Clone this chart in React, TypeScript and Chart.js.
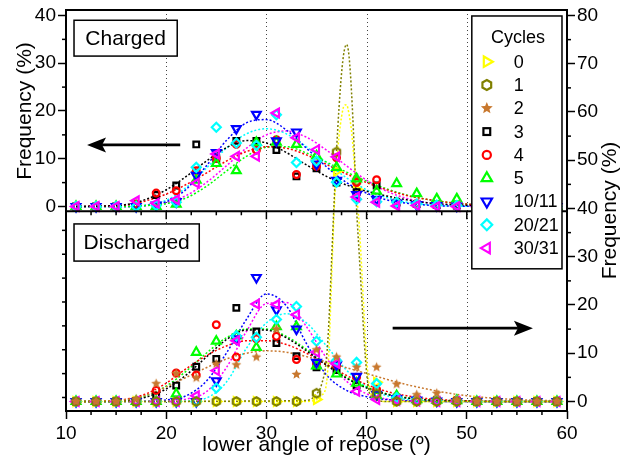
import React, { useEffect, useRef } from 'react';
import { Chart, registerables } from 'chart.js';

Chart.register(...registerables);

// ---------- data ----------
const CYCLES = ['0', '1', '2', '3', '4', '5', '10/11', '20/21', '30/31'];
const X_POINTS = [11, 13, 15, 17, 19, 21, 23, 25, 27, 29, 31, 33, 35, 37, 39, 41, 43, 45, 47, 49, 51, 53, 55, 57, 59];
const FIT_X = [11, 14, 16, 18, 20, 22, 24, 26, 28, 30, 32, 34, 36, 38, 40, 42, 44, 46, 48, 50, 52, 54, 56, 58, 59];
const PEAK_X = [11, 34, 35, 35.5, 36, 36.25, 36.5, 36.75, 37, 37.25, 37.5, 37.75, 38, 38.25, 38.5, 38.75, 39, 39.25, 39.5, 39.75, 40, 40.25, 40.5, 41, 42, 59];

// Charged (left axis) measured points
const CH3 = [0, 0, 0, 0.3, 2.4, 4.4, 13.0, 10.0, 13.75, 13.75, 11.8, 6.3, 8.0, 5.0, 3.0, 4.4, 0.8, 0.5, 0.3, 0.2, 0, 0, 0, 0, 0];
const CH4 = [0, 0, 0, 0.5, 2.8, 3.3, 7.5, 10.1, 13.0, 11.8, 14.0, 6.7, 8.4, 10.2, 5.0, 5.6, 0.9, 0.6, 0.3, 0.2, 0, 0, 0, 0, 0];
const CH5 = [0, 0, 0, 0, 0, 0.5, 5.5, 9.0, 7.5, 13.4, 13.5, 13.0, 10.6, 8.2, 5.8, 3.2, 4.8, 2.7, 1.6, 1.6, 0.5, 0.2, 0, 0, 0];
const CH10 = [0, 0, 0, 0, 0.3, 1.0, 6.5, 11.3, 16.3, 19.3, 13.75, 15.6, 8.9, 5.5, 2.5, 1.5, 0.7, 0.4, 0.2, 0.1, 0, 0, 0, 0, 0];
const CH20 = [0, 0, 0, 0, 0.2, 0.9, 8.2, 16.6, 13.3, 12.8, 19.2, 9.2, 9.5, 5.1, 1.5, 1.0, 0.9, 0.5, 0.3, 0.2, 0, 0, 0, 0, 0];
const CH30 = [0, 0, 0, 1.2, 0.7, 1.4, 4.9, 11.0, 10.5, 10.5, 19.6, 14.4, 11.9, 10.4, 2.0, 0.9, 0.1, 0.2, 0, 0, 0, 0, 0, 0, 0];

// Charged fitted curves (left axis)
const F_CH3 = [0, 0.1, 0.4, 1.5, 3.5, 6.3, 9.5, 12.3, 13.8, 13.3, 11.3, 8.7, 6.3, 4.5, 3.2, 2.2, 1.4, 0.8, 0.45, 0.25, 0.12, 0.05, 0, 0, 0];
const F_CH4 = [0, 0.1, 0.3, 1.2, 2.6, 4.6, 7.0, 9.5, 11.5, 12.5, 12.2, 10.8, 8.8, 6.8, 5.0, 3.5, 2.3, 1.5, 0.9, 0.5, 0.3, 0.15, 0.05, 0, 0];
const F_CH5 = [0, 0, 0, 0.2, 0.6, 1.8, 4.2, 7.4, 10.5, 12.4, 12.5, 11.2, 9.3, 7.2, 5.3, 3.7, 2.4, 1.5, 0.9, 0.5, 0.25, 0.1, 0.05, 0, 0];
const F_CH10 = [0, 0, 0, 0.2, 1.0, 3.6, 8.5, 13.8, 17.5, 18.2, 16.0, 12.2, 8.3, 5.0, 2.8, 1.4, 0.7, 0.3, 0.1, 0.05, 0, 0, 0, 0, 0];
const F_CH20 = [0, 0, 0, 0.3, 1.3, 4.0, 8.0, 12.2, 15.2, 16.3, 15.2, 12.5, 9.2, 6.0, 3.5, 1.9, 0.9, 0.4, 0.15, 0.05, 0, 0, 0, 0, 0];
const F_CH30 = [0, 0, 0, 0.2, 0.8, 2.3, 5.0, 8.5, 12.2, 15.0, 15.8, 14.5, 11.8, 8.5, 5.5, 3.2, 1.7, 0.8, 0.35, 0.1, 0, 0, 0, 0, 0];

// Discharged (right axis) measured points
const DIS0 = [0, 0, 0, 0, 0, 0, 0, 0, 0, 0, 0, 0, 0.4, 47.7, 44.0, 4.0, 0, 0, 0, 0, 0, 0, 0, 0, 0];
const DIS1 = [0, 0, 0, 0, 0, 0, 0, 0, 0, 0, 0, 0, 1.7, 51.7, 45.7, 1.6, 0, 0, 0, 0, 0, 0, 0, 0, 0];
const DIS2 = [0, 0, 0, 0.5, 3.7, 5.8, 4.9, 7.8, 7.6, 9.2, 15.0, 5.6, 10.7, 9.2, 7.1, 7.1, 3.6, 1.4, 1.7, 0.3, 0, 0, 0, 0, 0];
const DIS3 = [0, 0, 0, 0, 1.2, 3.3, 7.2, 8.8, 19.4, 14.5, 12.1, 9.4, 7.1, 6.5, 3.3, 1.5, 0.8, 0.4, 0.2, 0.1, 0, 0, 0, 0, 0];
const DIS4 = [0, 0, 0, 0, 2.3, 5.9, 5.5, 15.9, 9.2, 13.0, 13.5, 8.7, 8.0, 7.5, 5.0, 2.5, 0.8, 0.5, 0.3, 0.3, 0, 0, 0, 0, 0];
const DIS5 = [0, 0, 0, 0, 0, 1.6, 10.2, 12.5, 13.6, 11.2, 15.5, 15.5, 7.4, 5.7, 3.8, 1.2, 1.2, 0.4, 0.3, 0.2, 0, 0, 0, 0, 0];
const DIS10 = [0, 0, 0, 0, 0, 0, 0, 4.3, 13.0, 25.7, 19.0, 15.0, 8.1, 7.6, 5.2, 1.5, 0.6, 0.3, 0.1, 0, 0, 0, 0, 0, 0];
const DIS20 = [0, 0, 0, 0, 0, 0, 0, 2.8, 13.6, 13.3, 17.0, 19.7, 12.5, 8.5, 8.1, 3.7, 0.8, 0.4, 0.2, 0.1, 0, 0, 0, 0, 0];
const DIS30 = [0, 0, 0, 0, 0, 0, 1.2, 6.4, 12.6, 20.2, 20.1, 18.0, 10.2, 7.9, 2.1, 0.4, 0.2, 0.1, 0, 0, 0, 0, 0, 0, 0];

// Discharged fitted curves (right axis)
const F_DIS0 = [0, 0, 0.4, 1.2, 3.8, 11, 25, 39, 49, 55, 59, 61.3, 61.5, 59.5, 56, 50, 43, 37, 28, 18, 9, 3.5, 1.2, 0.2, 0, 0];
const F_DIS1 = [0, 0.2, 1.5, 3.5, 9, 17, 29, 41, 52, 61, 68, 72.5, 74, 71.5, 64, 53, 40, 31, 22, 13, 6, 2, 0.8, 0.3, 0, 0];
const F_DIS2 = [0, 0.1, 0.4, 1.3, 3.0, 5.0, 7.0, 8.8, 10.0, 10.5, 10.2, 9.3, 8.2, 7.0, 5.8, 4.6, 3.5, 2.6, 1.8, 1.2, 0.8, 0.5, 0.3, 0.2, 0.15];
const F_DIS3 = [0, 0, 0.2, 0.9, 2.6, 5.5, 9.2, 12.8, 14.8, 14.8, 13.2, 10.5, 7.5, 4.8, 2.8, 1.5, 0.7, 0.3, 0.1, 0.05, 0, 0, 0, 0, 0];
const F_DIS4 = [0, 0.1, 0.5, 1.6, 3.8, 6.8, 9.5, 11.5, 12.6, 12.6, 11.8, 10.0, 7.7, 5.4, 3.5, 2.1, 1.2, 0.6, 0.3, 0.15, 0.05, 0, 0, 0, 0];
const F_DIS5 = [0, 0, 0.3, 1.2, 3.2, 6.3, 10.0, 13.2, 15.0, 15.0, 13.5, 10.8, 7.8, 5.0, 3.0, 1.6, 0.8, 0.4, 0.2, 0.1, 0, 0, 0, 0, 0];
const F_DIS10 = [0, 0, 0, 0.05, 0.3, 1.2, 4.2, 10.0, 17.0, 22.3, 19.8, 12.0, 5.5, 2.3, 1.0, 0.4, 0.15, 0.05, 0, 0, 0, 0, 0, 0, 0];
const F_DIS20 = [0, 0, 0, 0, 0, 0.1, 0.7, 4.0, 11.0, 16.3, 18.2, 16.3, 11.5, 6.5, 3.0, 1.2, 0.4, 0.1, 0, 0, 0, 0, 0, 0, 0];
const F_DIS30 = [0, 0, 0, 0, 0.1, 0.5, 2.0, 7.0, 14.5, 20.3, 20.5, 15.5, 9.0, 4.2, 1.6, 0.5, 0.15, 0.05, 0, 0, 0, 0, 0, 0, 0];

// ticks
const X_TICKS = [10, 20, 30, 40, 50, 60];
const X_MINOR = [12.5, 15, 17.5, 22.5, 25, 27.5, 32.5, 35, 37.5, 42.5, 45, 47.5, 52.5, 55, 57.5];
const X_GRID = [20, 30, 40, 50];
const LEFT_TICKS = [0, 10, 20, 30, 40];
const LEFT_MINOR = [5, 15, 25, 35, -5, -10, -15, -20, -25, -30, -35, -40];
const RIGHT_TICKS = [0, 10, 20, 30, 40, 50, 60, 70, 80];
const RIGHT_MINOR = [5, 15, 25, 35, 45, 55, 65, 75];

const FONT = '"Liberation Sans", Arial, Helvetica, sans-serif';

// ---------- styles ----------
type Sty = { color: string; point: string; rot: number; r: number };
const STYLE: Record<string, Sty> = {
  '0': { color: '#FFFF00', point: 'triangle', rot: 90, r: 5 },
  '1': { color: '#808000', point: 'hex', rot: 0, r: 4.2 },
  '2': { color: '#C8782E', point: 'star', rot: 0, r: 5.2 },
  '3': { color: '#000000', point: 'rect', rot: 0, r: 4 },
  '4': { color: '#FF0000', point: 'circle', rot: 0, r: 3.4 },
  '5': { color: '#00FF00', point: 'triangle', rot: 0, r: 5 },
  '10/11': { color: '#0000FF', point: 'triangle', rot: 180, r: 5 },
  '20/21': { color: '#00FFFF', point: 'rectRot', rot: 0, r: 4.5 },
  '30/31': { color: '#FF00FF', point: 'triangle', rot: 270, r: 5 },
};

function starPath(g: CanvasRenderingContext2D, cx: number, cy: number, R: number) {
  g.beginPath();
  for (let i = 0; i < 10; i++) {
    const a = -Math.PI / 2 + (i * Math.PI) / 5;
    const rr = i % 2 === 0 ? R : R * 0.45;
    g.lineTo(cx + rr * Math.cos(a), cy + rr * Math.sin(a));
  }
  g.closePath();
}
function hexPath(g: CanvasRenderingContext2D, cx: number, cy: number, R: number) {
  g.beginPath();
  for (let i = 0; i < 6; i++) {
    const a = -Math.PI / 2 + (i * Math.PI) / 3;
    g.lineTo(cx + R * Math.cos(a), cy + R * Math.sin(a));
  }
  g.closePath();
}
function makeImg(kind: string, color: string, R: number) {
  const size = Math.ceil(R * 2 + 4) | 1;
  const c = document.createElement('canvas');
  c.width = size;
  c.height = size;
  const g = c.getContext('2d')!;
  if (kind === 'star') {
    starPath(g, size / 2, size / 2, R);
    g.fillStyle = color;
    g.fill();
  } else {
    hexPath(g, size / 2, size / 2, R);
    g.strokeStyle = color;
    g.lineWidth = 2.2;
    g.stroke();
  }
  return c;
}

function drawMarker(ctx: CanvasRenderingContext2D, s: Sty, x: number, y: number, scale: number) {
  const r = s.r * scale;
  ctx.save();
  ctx.strokeStyle = s.color;
  ctx.fillStyle = s.color;
  ctx.lineWidth = 2.2;
  ctx.setLineDash([]);
  if (s.point === 'star') {
    starPath(ctx, x, y, r);
    ctx.fill();
  } else if (s.point === 'hex') {
    hexPath(ctx, x, y, r);
    ctx.stroke();
  } else if (s.point === 'circle') {
    ctx.beginPath();
    ctx.arc(x, y, r, 0, Math.PI * 2);
    ctx.stroke();
  } else if (s.point === 'rect') {
    const h = r * Math.SQRT1_2;
    ctx.strokeRect(x - h, y - h, 2 * h, 2 * h);
  } else if (s.point === 'rectRot') {
    ctx.beginPath();
    ctx.moveTo(x, y - r);
    ctx.lineTo(x + r, y);
    ctx.lineTo(x, y + r);
    ctx.lineTo(x - r, y);
    ctx.closePath();
    ctx.stroke();
  } else {
    let a = (s.rot * Math.PI) / 180;
    ctx.beginPath();
    for (let i = 0; i < 3; i++) {
      ctx.lineTo(x + Math.sin(a) * r, y - Math.cos(a) * r);
      a += (2 * Math.PI) / 3;
    }
    ctx.closePath();
    ctx.stroke();
  }
  ctx.restore();
}

const pts = (xs: number[], ys: number[]) => xs.map((x, i) => ({ x, y: ys[i] }));

function fitDs(label: string, xs: number[], ys: number[], axis: string) {
  const s = STYLE[label];
  return {
    label: 'fit ' + label,
    data: pts(xs, ys),
    yAxisID: axis,
    showLine: true,
    borderColor: s.color,
    borderWidth: 1.5,
    borderDash: [2, 2],
    pointRadius: 0,
    fill: false,
    cubicInterpolationMode: 'monotone',
    order: 2,
  };
}
function pointDs(label: string, ys: number[], axis: string) {
  const s = STYLE[label];
  const img = s.point === 'star' || s.point === 'hex' ? makeImg(s.point, s.color, s.r) : null;
  return {
    label,
    data: pts(X_POINTS, ys),
    yAxisID: axis,
    showLine: false,
    pointStyle: img || s.point,
    pointRotation: s.rot,
    pointRadius: s.r,
    pointBorderColor: s.color,
    pointBackgroundColor: 'rgba(0,0,0,0)',
    pointBorderWidth: 2.2,
    borderColor: s.color,
    order: 1,
  };
}

function line(ctx: CanvasRenderingContext2D, x0: number, y0: number, x1: number, y1: number) {
  ctx.beginPath();
  ctx.moveTo(x0, y0);
  ctx.lineTo(x1, y1);
  ctx.stroke();
}

function arrow(ctx: CanvasRenderingContext2D, x0: number, y: number, x1: number) {
  const dir = Math.sign(x1 - x0);
  const len = 19;
  const half = 7.5;
  ctx.lineWidth = 2.6;
  line(ctx, x0, y, x1 - dir * (len - 4), y);
  ctx.beginPath();
  ctx.moveTo(x1, y);
  ctx.lineTo(x1 - dir * len, y - half);
  ctx.lineTo(x1 - dir * (len - 4), y);
  ctx.lineTo(x1 - dir * len, y + half);
  ctx.closePath();
  ctx.fill();
}

const overlay = {
  id: 'overlay',
  beforeDatasetsDraw(chart: any) {
    const { ctx, chartArea: a, scales } = chart;
    ctx.save();
    ctx.strokeStyle = '#444';
    ctx.lineWidth = 1;
    ctx.setLineDash([1, 3]);
    for (const v of X_GRID) {
      const px = Math.round(scales.x.getPixelForValue(v)) + 0.5;
      line(ctx, px, a.top, px, a.bottom);
    }
    ctx.restore();
  },
  afterDraw(chart: any) {
    const { ctx, chartArea: a, scales } = chart;
    const sx = scales.x;
    const sl = scales.y;
    const sr = scales.y1;
    ctx.save();
    ctx.setLineDash([]);
    ctx.strokeStyle = '#000';
    ctx.fillStyle = '#000';

    // frame and panel separator
    ctx.lineWidth = 2;
    ctx.strokeRect(a.left, a.top, a.right - a.left, a.bottom - a.top);
    const sepY = sl.getPixelForValue(-1);
    line(ctx, a.left, sepY, a.right, sepY);

    // ticks
    ctx.lineWidth = 1.5;
    for (const v of X_MINOR) {
      const px = sx.getPixelForValue(v);
      line(ctx, px, a.bottom, px, a.bottom + 4);
      line(ctx, px, sepY, px, sepY + 4);
    }
    for (const v of X_TICKS) {
      const px = sx.getPixelForValue(v);
      line(ctx, px, sepY, px, sepY + 8);
    }
    for (const v of LEFT_MINOR) {
      const py = sl.getPixelForValue(v);
      line(ctx, a.left - 4, py, a.left, py);
    }
    for (const v of RIGHT_MINOR) {
      const py = sr.getPixelForValue(v);
      line(ctx, a.right, py, a.right + 4, py);
    }

    // panel label boxes
    const box = (x0: number, y0: number, x1: number, y1: number, text: string) => {
      ctx.fillStyle = '#fff';
      ctx.fillRect(x0, y0, x1 - x0, y1 - y0);
      ctx.lineWidth = 1.5;
      ctx.strokeRect(x0, y0, x1 - x0, y1 - y0);
      ctx.fillStyle = '#000';
      ctx.font = `21px ${FONT}`;
      ctx.textAlign = 'center';
      ctx.textBaseline = 'middle';
      ctx.fillText(text, (x0 + x1) / 2, (y0 + y1) / 2 + 1);
    };
    box(sx.getPixelForValue(10.8), sl.getPixelForValue(39.0), sx.getPixelForValue(21.1), sl.getPixelForValue(31.5), 'Charged');
    box(sx.getPixelForValue(10.8), sr.getPixelForValue(36.8), sx.getPixelForValue(23.3), sr.getPixelForValue(29.1), 'Discharged');

    // arrows
    ctx.fillStyle = '#000';
    arrow(ctx, sx.getPixelForValue(21.4), sl.getPixelForValue(12.9), sx.getPixelForValue(12.1));
    arrow(ctx, sx.getPixelForValue(42.6), sr.getPixelForValue(15.2), sx.getPixelForValue(56.6));

    // legend
    const lx0 = sx.getPixelForValue(50.5);
    const lx1 = sx.getPixelForValue(59.5);
    const ly0 = sr.getPixelForValue(79.9);
    const ly1 = sr.getPixelForValue(27.5);
    ctx.fillStyle = '#fff';
    ctx.fillRect(lx0, ly0, lx1 - lx0, ly1 - ly0);
    ctx.lineWidth = 1.5;
    ctx.strokeStyle = '#000';
    ctx.strokeRect(lx0, ly0, lx1 - lx0, ly1 - ly0);
    ctx.fillStyle = '#000';
    ctx.font = `18px ${FONT}`;
    ctx.textBaseline = 'middle';
    ctx.textAlign = 'center';
    ctx.fillText('Cycles', (lx0 + lx1) / 2 + 1, ly0 + 22);
    ctx.textAlign = 'left';
    CYCLES.forEach((c, i) => {
      const yy = ly0 + 45.7 + i * 23.3;
      drawMarker(ctx, STYLE[c], lx0 + 15, yy, 1.2);
      ctx.fillStyle = '#000';
      ctx.fillText(c, lx0 + 42, yy + 1);
    });

    // axis titles
    ctx.font = `21px ${FONT}`;
    ctx.textAlign = 'center';
    ctx.textBaseline = 'middle';
    ctx.fillText('lower angle of repose (º)', (a.left + a.right) / 2, a.bottom + 34);
    ctx.save();
    ctx.translate(a.left - 41, (sl.getPixelForValue(0) + sl.getPixelForValue(40)) / 2);
    ctx.rotate(-Math.PI / 2);
    ctx.fillText('Frequency (%)', 0, 0);
    ctx.restore();
    ctx.save();
    ctx.translate(a.right + 43, (a.top + a.bottom) / 2);
    ctx.rotate(-Math.PI / 2);
    ctx.fillText('Frequency (%)', 0, 0);
    ctx.restore();

    ctx.restore();
  },
};

const tickFont = { family: FONT, size: 19 };
const gridOpts = { drawOnChartArea: false, drawTicks: true, tickLength: 8, tickColor: '#000', tickWidth: 1.5 };

export default function App() {
  const ref = useRef<HTMLCanvasElement>(null);
  useEffect(() => {
    const canvas = ref.current;
    if (!canvas) return;
    // earlier entries are drawn on top
    const datasets: any[] = [
      pointDs('30/31', CH30, 'y'),
      pointDs('20/21', CH20, 'y'),
      pointDs('10/11', CH10, 'y'),
      pointDs('5', CH5, 'y'),
      pointDs('4', CH4, 'y'),
      pointDs('3', CH3, 'y'),
      pointDs('2', DIS2, 'y1'),
      pointDs('1', DIS1, 'y1'),
      pointDs('30/31', DIS30, 'y1'),
      pointDs('20/21', DIS20, 'y1'),
      pointDs('10/11', DIS10, 'y1'),
      pointDs('5', DIS5, 'y1'),
      pointDs('4', DIS4, 'y1'),
      pointDs('3', DIS3, 'y1'),
      pointDs('0', DIS0, 'y1'),
      fitDs('3', FIT_X, F_CH3, 'y'),
      fitDs('4', FIT_X, F_CH4, 'y'),
      fitDs('5', FIT_X, F_CH5, 'y'),
      fitDs('10/11', FIT_X, F_CH10, 'y'),
      fitDs('20/21', FIT_X, F_CH20, 'y'),
      fitDs('30/31', FIT_X, F_CH30, 'y'),
      fitDs('1', PEAK_X, F_DIS1, 'y1'),
      fitDs('0', PEAK_X, F_DIS0, 'y1'),
      fitDs('2', FIT_X, F_DIS2, 'y1'),
      fitDs('3', FIT_X, F_DIS3, 'y1'),
      fitDs('4', FIT_X, F_DIS4, 'y1'),
      fitDs('5', FIT_X, F_DIS5, 'y1'),
      fitDs('10/11', FIT_X, F_DIS10, 'y1'),
      fitDs('20/21', FIT_X, F_DIS20, 'y1'),
      fitDs('30/31', FIT_X, F_DIS30, 'y1'),
    ];
    const chart = new Chart(canvas, {
      type: 'scatter',
      data: { datasets },
      options: {
        animation: false,
        responsive: false,
        devicePixelRatio: 1,
        events: [],
        layout: { padding: { top: 10, left: 0, right: 0, bottom: 0 } },
        plugins: { legend: { display: false }, tooltip: { enabled: false } },
        scales: {
          x: {
            type: 'linear',
            position: 'bottom',
            min: 10,
            max: 60,
            afterBuildTicks: (s: any) => {
              s.ticks = X_TICKS.map((v) => ({ value: v }));
            },
            afterFit: (s: any) => {
              s.height = 50;
              s.paddingLeft = 0;
              s.paddingRight = 0;
            },
            grid: gridOpts,
            border: { display: false },
            ticks: { font: tickFont, color: '#000', padding: 3, maxRotation: 0, autoSkip: false },
          },
          y: {
            type: 'linear',
            position: 'left',
            min: -42.83,
            max: 41.15,
            afterBuildTicks: (s: any) => {
              s.ticks = LEFT_TICKS.map((v) => ({ value: v }));
            },
            afterFit: (s: any) => {
              s.width = 66;
              s.paddingTop = 0;
              s.paddingBottom = 0;
            },
            grid: gridOpts,
            border: { display: false },
            ticks: { font: tickFont, color: '#000', padding: 2, autoSkip: false },
          },
          y1: {
            type: 'linear',
            position: 'right',
            min: -1.97,
            max: 81.14,
            afterBuildTicks: (s: any) => {
              s.ticks = RIGHT_TICKS.map((v) => ({ value: v }));
            },
            afterFit: (s: any) => {
              s.width = 60;
              s.paddingTop = 0;
              s.paddingBottom = 0;
            },
            grid: gridOpts,
            border: { display: false },
            ticks: { font: tickFont, color: '#000', padding: 2, autoSkip: false },
          },
        },
      } as any,
      plugins: [overlay],
    });
    return () => chart.destroy();
  }, []);
  return (
    <div style={{ position: 'absolute', left: 0, top: 0, width: 627, height: 461, background: '#fff' }}>
      <canvas ref={ref} width={627} height={461} style={{ width: 627, height: 461, display: 'block' }} />
    </div>
  );
}
